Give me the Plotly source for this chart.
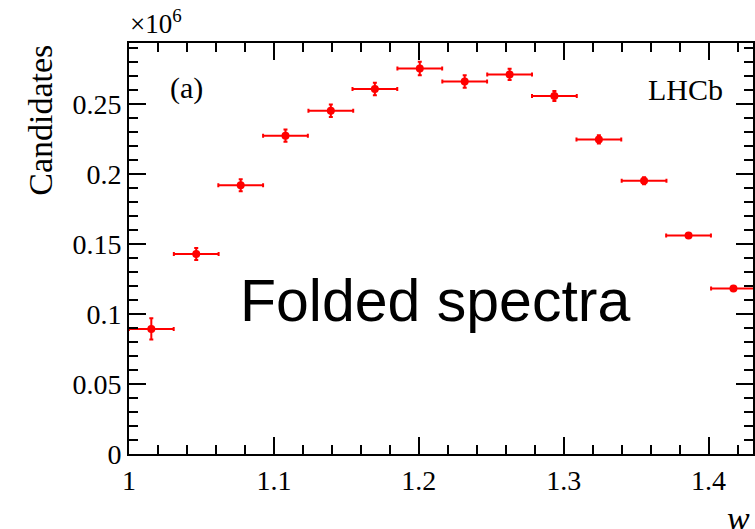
import plotly.graph_objects as go

# Folded w spectrum: bin centres, candidate yields (in units of 10^6) and uncertainties
w_centres = [1.0154, 1.0464, 1.0771, 1.1080, 1.1393, 1.1697, 1.2007,
             1.2317, 1.2627, 1.2936, 1.3243, 1.3555, 1.3862, 1.4172]
w_halfwidth = [0.01545] * 14
yields = [0.0893, 0.1429, 0.1919, 0.2274, 0.2452, 0.2607, 0.2754,
          0.2661, 0.2711, 0.2557, 0.2247, 0.1952, 0.1561, 0.1183]
yield_err = [0.0076, 0.0043, 0.0043, 0.0043, 0.0045, 0.0045, 0.0048,
             0.0045, 0.0040, 0.0035, 0.0030, 0.0025, 0.0016, 0.0010]

x_ticks = [1.0, 1.1, 1.2, 1.3, 1.4]
x_ticktext = ["1", "1.1", "1.2", "1.3", "1.4"]
y_ticks = [0.0, 0.05, 0.1, 0.15, 0.2, 0.25]
y_ticktext = ["0", "0.05", "0.1", "0.15", "0.2", "0.25"]

W, H = 755, 529
M_L, M_R, M_T, M_B = 129, 0, 43, 75
PLOT_W = W - M_L - M_R
PLOT_H = H - M_T - M_B

SERIF = "Liberation Serif, Times New Roman, serif"
RED = "#ff0000"

fig = go.Figure()
fig.add_trace(go.Scatter(
    x=w_centres, y=yields, mode="markers",
    marker=dict(color=RED, size=8),
    error_x=dict(type="data", array=w_halfwidth, color=RED, thickness=2, width=2),
    error_y=dict(type="data", array=yield_err, color=RED, thickness=2, width=2),
    showlegend=False, cliponaxis=False,
))


def px_x(px):
    return (px - M_L) / PLOT_W


def px_y(py):
    return (H - M_B - py) / PLOT_H


axis_common = dict(
    showgrid=False, zeroline=False, showline=True, linecolor="black", linewidth=2,
    mirror="allticks", ticks="inside", ticklen=17, tickwidth=2, tickcolor="black",
    tickfont=dict(family=SERIF, size=28, color="black"),
)

fig.update_xaxes(
    range=[1.0, 1.0 + PLOT_W / 1453.5],
    tickvals=x_ticks, ticktext=x_ticktext,
    minor=dict(dtick=0.02, tick0=1.0, ticklen=9, tickwidth=2, tickcolor="black", ticks="inside"),
    **axis_common,
)
fig.update_yaxes(
    range=[0.0, PLOT_H / 1400.0],
    tickvals=y_ticks, ticktext=y_ticktext,
    minor=dict(dtick=0.01, tick0=0.0, ticklen=9, tickwidth=2, tickcolor="black", ticks="inside"),
    **axis_common,
)

annotations = [
    dict(text="×10<sup>6</sup>", x=px_x(128), y=px_y(41), xanchor="left", yanchor="bottom",
         font=dict(family=SERIF, size=27, color="black")),
    dict(text="Candidates", x=px_x(40), y=px_y(43), xanchor="center", yanchor="top",
         textangle=-90, font=dict(family=SERIF, size=34, color="black")),
    dict(text="(a)", x=px_x(168), y=px_y(88), xanchor="left", yanchor="middle",
         font=dict(family=SERIF, size=30, color="black")),
    dict(text="LHCb", x=px_x(727), y=px_y(89), xanchor="right", yanchor="middle",
         font=dict(family=SERIF, size=30, color="black")),
    dict(text="Folded spectra", x=px_x(436), y=px_y(301), xanchor="center", yanchor="middle",
         font=dict(family="Liberation Sans, Arial, sans-serif", size=59, color="black")),
    dict(text="<i>w</i>", x=px_x(727), y=px_y(518), xanchor="left", yanchor="middle",
         font=dict(family=SERIF, size=34, color="black")),
]
for a in annotations:
    a.update(xref="paper", yref="paper", showarrow=False)
fig.update_layout(
    annotations=annotations,
    width=W, height=H,
    margin=dict(l=M_L, r=M_R, t=M_T, b=M_B, pad=0),
    paper_bgcolor="white", plot_bgcolor="white",
)

fig.write_html("out.html")
